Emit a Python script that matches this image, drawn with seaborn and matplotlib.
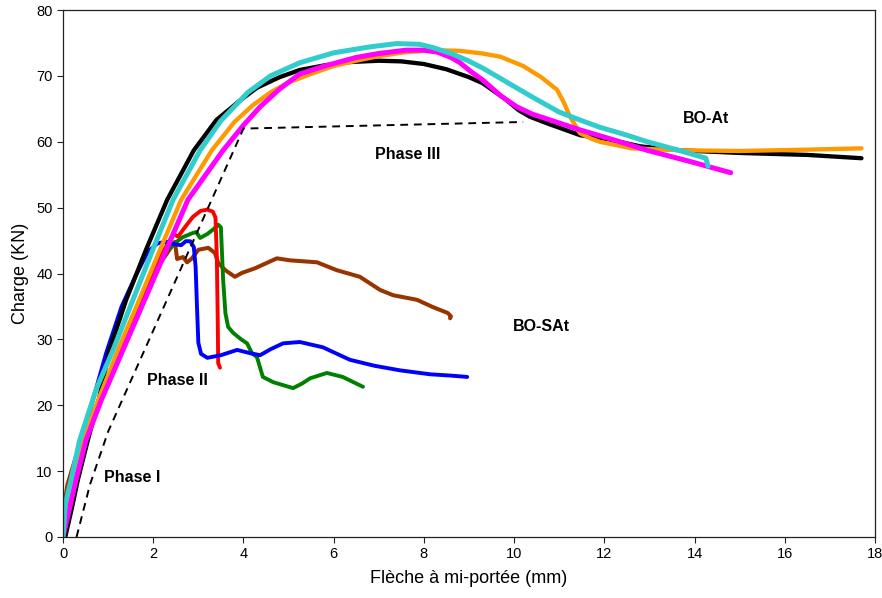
import matplotlib
matplotlib.use("Agg")
import matplotlib.pyplot as plt
import seaborn as sns
import pandas as pd

# ---------------- data ----------------
black_x = [0.05, 0.2, 0.33, 0.55, 0.8, 1.03, 1.4, 1.84, 2.31, 2.9, 3.4, 3.93, 4.3, 4.8, 5.25, 5.8, 6.36, 7.0, 7.5, 8.0, 8.5, 9.0, 9.3, 9.8, 10.1, 10.35, 10.73, 11.46, 12.06, 12.8, 13.68, 15.0, 16.5, 17.7]
black_y = [0, 4.5, 8.7, 14.7, 21, 28.4, 36, 43.6, 51.2, 58.7, 63.3, 66.3, 68.2, 69.8, 70.9, 71.6, 72.1, 72.3, 72.2, 71.8, 71, 69.8, 68.9, 66.5, 64.8, 63.8, 62.8, 61, 60.4, 59.3, 58.7, 58.3, 58.0, 57.5]

cyan_x = [0, 0.05, 0.18, 0.37, 0.55, 0.74, 1.11, 1.55, 1.99, 2.44, 3.04, 3.5, 4.1, 4.6, 5.25, 6.0, 6.8, 7.4, 7.9, 8.2, 8.6, 8.95, 9.3, 9.6, 10.0, 10.4, 11.0, 11.5, 11.9, 12.5, 12.95, 13.6, 14.1, 14.25, 14.3]
cyan_y = [0, 5, 8.7, 14.7, 18.5, 22.5, 28.4, 36, 43.6, 51.2, 58.7, 63.2, 67.5, 70, 72, 73.5, 74.4, 74.9, 74.8, 74.3, 73.4, 72.4, 71.2, 70, 68.4, 66.8, 64.5, 63.2, 62.2, 61, 60, 58.8, 57.8, 57.5, 56.3]

orange_x = [0, 0.08, 0.2, 0.44, 0.78, 1.22, 1.69, 2.15, 2.62, 3.3, 3.8, 4.2, 4.6, 5.0, 5.5, 6.0, 6.5, 7.0, 7.6, 8.2, 8.8, 9.3, 9.7, 10.2, 10.6, 10.95, 11.1, 11.24, 11.46, 11.7, 11.9, 12.6, 13.7, 15.0, 16.5, 17.7]
orange_y = [0, 5, 9, 14.7, 20.8, 28.4, 36, 43.6, 51.2, 58.7, 63, 65.5, 67.5, 69, 70.3, 71.5, 72.3, 73, 73.6, 73.9, 73.8, 73.4, 72.9, 71.5, 69.8, 67.9, 66, 63.8, 61.3, 60.5, 60, 59, 58.7, 58.6, 58.8, 59]

magenta_x = [0, 0.05, 0.29, 0.51, 0.85, 1.33, 1.81, 2.29, 2.77, 3.55, 4.0, 4.37, 4.8, 5.25, 5.8, 6.5, 7.0, 7.6, 8.0, 8.3, 8.6, 8.8, 9.05, 9.3, 9.7, 10.06, 10.4, 10.8, 11.46, 12.2, 12.95, 13.9, 14.8]
magenta_y = [0, 1.5, 8.7, 14.7, 20.8, 28.4, 36, 43.6, 51.2, 58.7, 62.5, 65.3, 68, 70.3, 71.5, 72.8, 73.4, 73.9, 73.9, 73.6, 72.8, 72, 70.6, 69.4, 67, 65.3, 64.2, 63.3, 61.8, 60.3, 58.7, 57, 55.3]

blue_x = [0, 0.1, 0.25, 0.45, 0.65, 0.96, 1.3, 1.6, 1.88, 2.1, 2.3, 2.5, 2.62, 2.72, 2.82, 2.9, 2.94, 2.97, 3.0, 3.06, 3.2, 3.5, 3.86, 4.15, 4.37, 4.6, 4.88, 5.25, 5.76, 6.36, 6.9, 7.47, 8.14, 8.6, 8.96]
blue_y = [0, 4.5, 9.5, 15, 20.5, 28, 35, 39.5, 43.3, 44.6, 44.8, 44.4, 44.3, 44.9, 44.9, 44, 41, 35, 29.5, 27.8, 27.2, 27.6, 28.4, 27.9, 27.6, 28.5, 29.4, 29.6, 28.8, 26.9, 26, 25.3, 24.7, 24.5, 24.3]

red_x = [0, 0.08, 0.2, 0.44, 0.78, 1.22, 1.69, 2.15, 2.45, 2.55, 2.7, 2.88, 3.05, 3.2, 3.32, 3.38, 3.41, 3.43, 3.44, 3.48]
red_y = [0, 2, 6, 13, 20, 28, 35.5, 42.5, 46, 45.6, 47, 48.6, 49.5, 49.7, 49.4, 48.5, 42.5, 33, 26.4, 25.7]

green_x = [0, 0.08, 0.2, 0.44, 0.78, 1.22, 1.69, 2.15, 2.48, 2.65, 2.86, 2.95, 3.04, 3.2, 3.35, 3.44, 3.5, 3.55, 3.6, 3.66, 3.77, 3.95, 4.08, 4.19, 4.3, 4.43, 4.66, 5.1, 5.3, 5.48, 5.85, 6.2, 6.65]
green_y = [0, 4, 8.5, 14, 20, 27.5, 35, 42.5, 44.6, 45.5, 46.1, 46.3, 45.4, 46, 46.8, 47.4, 47, 39, 34, 31.9, 31, 30, 29.4, 27.9, 27.3, 24.3, 23.5, 22.6, 23.3, 24.1, 24.9, 24.3, 22.8]

brown_x = [0, 0.02, 0.1, 0.3, 0.6, 1.0, 1.5, 2.0, 2.48, 2.53, 2.66, 2.75, 2.86, 3.0, 3.22, 3.37, 3.44, 3.6, 3.81, 3.97, 4.26, 4.74, 5.03, 5.63, 6.07, 6.58, 7.03, 7.32, 7.85, 8.2, 8.53, 8.6, 8.58]
brown_y = [0, 4.5, 8, 12.5, 17.5, 24, 32, 40, 44.8, 42.2, 42.5, 41.7, 42.3, 43.6, 43.9, 43.1, 41.6, 40.5, 39.5, 40.1, 40.8, 42.3, 42, 41.7, 40.5, 39.5, 37.5, 36.7, 36, 34.9, 34, 33.5, 33.2]

model_x = [0.3, 0.6, 1.0, 4.0, 10.2]
model_y = [0, 8, 16, 62, 63]

labels_text = ["Phase I", "Phase II", "Phase III", "BO-At", "BO-SAt"]
labels_x = [1.53, 2.53, 7.63, 14.25, 10.6]
labels_y = [9.0, 23.7, 58.1, 63.6, 32.0]

x_ticks = list(range(0, 19, 2))
y_ticks = list(range(0, 81, 10))

# ---------------- plot ----------------
sns.set_style("ticks")
plt.rcParams['font.family'] = ['Liberation Sans', 'DejaVu Sans']
plt.rcParams['text.color'] = 'black'
plt.rcParams['axes.labelcolor'] = 'black'
plt.rcParams['xtick.color'] = 'black'
plt.rcParams['ytick.color'] = 'black'

fig = plt.figure(figsize=(8.82, 5.98), dpi=100)
ax = fig.add_axes([63/882, 61/598, 812/882, 527/598])

series = [
    (brown_x, brown_y, "#993300", 2.9),
    (green_x, green_y, "#008000", 2.8),
    (red_x, red_y, "#FF0000", 2.8),
    (blue_x, blue_y, "#0000FF", 2.8),
    (black_x, black_y, "#000000", 3.1),
    (orange_x, orange_y, "#FF9900", 3.1),
    (magenta_x, magenta_y, "#FF00FF", 3.6),
    (cyan_x, cyan_y, "#33CCCC", 3.6),
]
for xs, ys, col, lw in series:
    df = pd.DataFrame({"x": xs, "y": ys})
    sns.lineplot(data=df, x="x", y="y", sort=False, estimator=None, color=col,
                 lw=lw, ax=ax, solid_capstyle="round", solid_joinstyle="round")

dfm = pd.DataFrame({"x": model_x, "y": model_y})
sns.lineplot(data=dfm, x="x", y="y", sort=False, estimator=None, color="black",
             lw=1.4, ax=ax, linestyle=(0, (4, 3)))

for t, tx, ty in zip(labels_text, labels_x, labels_y):
    ax.text(tx, ty, t, ha="center", va="center", fontsize=11.5, fontweight="bold", color="black")

ax.set_xlim(0, 18)
ax.set_ylim(0, 80)
ax.set_xticks(x_ticks)
ax.set_yticks(y_ticks)
ax.tick_params(axis="both", labelsize=10.5, direction="out", length=4, width=0.8,
               color="#222222", labelcolor="black")
ax.set_xlabel("Flèche à mi-portée (mm)", fontsize=13, labelpad=6, color="black")
ax.set_ylabel("Charge (KN)", fontsize=13, labelpad=5, color="black")
for s in ax.spines.values():
    s.set_visible(True)
    s.set_linewidth(0.9)
    s.set_color("#222222")

fig.savefig("out.png", dpi=100)
